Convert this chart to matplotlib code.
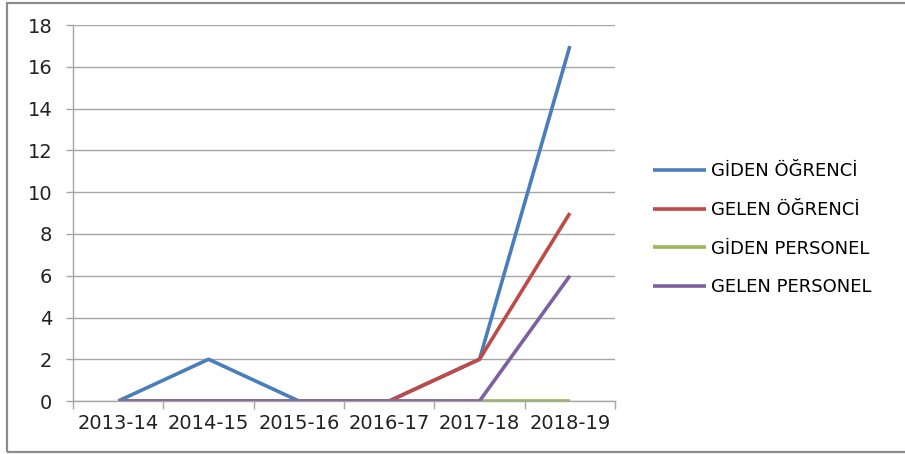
import numpy as np
import matplotlib
matplotlib.use("Agg")
import matplotlib.pyplot as plt
from matplotlib.patches import Rectangle

# values
years = ['2013-14', '2014-15', '2015-16', '2016-17', '2017-18', '2018-19']
giden_ogrenci = [0, 2, 0, 0, 2, 17]
gelen_ogrenci = [0, 0, 0, 0, 2, 9]
giden_personel = [0, 0, 0, 0, 0, 0]
gelen_personel = [0, 0, 0, 0, 0, 6]

series_names = ['GİDEN ÖĞRENCİ', 'GELEN ÖĞRENCİ', 'GİDEN PERSONEL', 'GELEN PERSONEL']
series_colors = ['#4A7EBB', '#BE4B48', '#98B954', '#7D60A0']

plt.rcParams['font.family'] = ['DejaVu Sans']
grid_c = '#A6A6A6'

fig = plt.figure(figsize=(9.05, 4.54), dpi=100)
ax = fig.add_axes([0.0807, 0.1167, 0.5989, 0.8278])

x = np.arange(len(years))
for vals, name, c in zip([giden_ogrenci, gelen_ogrenci, giden_personel, gelen_personel],
                         series_names, series_colors):
    ax.plot(x, vals, color=c, lw=2.6, label=name, solid_capstyle='butt')

ax.set_xlim(-0.5, len(years) - 0.5)
ax.set_ylim(0, 18)
ax.set_yticks(np.arange(0, 19, 2))
ax.yaxis.grid(True, color=grid_c, lw=1)
ax.set_axisbelow(True)

# category ticks sit between the categories
ax.set_xticks(np.arange(-0.5, len(years), 1.0))
ax.set_xticklabels([])
ax.set_xticks(x, minor=True)
ax.set_xticklabels(years, minor=True, fontsize=14, color='#222222')
ax.tick_params(axis='x', which='minor', length=0, pad=9)
ax.tick_params(axis='x', which='major', length=6, color=grid_c, width=1)
ax.tick_params(axis='y', length=5, color=grid_c, width=1, labelsize=14,
               labelcolor='#222222', pad=10)

for s in ['top', 'right']:
    ax.spines[s].set_visible(False)
for s in ['left', 'bottom']:
    ax.spines[s].set_color(grid_c)
    ax.spines[s].set_linewidth(1)

fig.legend(loc='center left', bbox_to_anchor=(0.704, 0.495), frameon=False,
           fontsize=13, handlelength=2.9, handletextpad=0.28, labelspacing=1.15)

# outer chart frame (right edge runs off the picture)
fig.patches.append(Rectangle((0.008, 0.004), 1.05, 0.99, transform=fig.transFigure,
                             fill=False, edgecolor='#8C8C8C', lw=1.6))

fig.savefig('out.png', dpi=100)
